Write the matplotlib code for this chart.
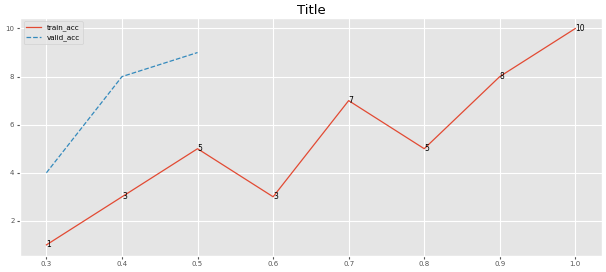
import matplotlib.pyplot as plt

plt.style.use('ggplot')

x_train = [0.3, 0.4, 0.5, 0.6, 0.7, 0.8, 0.9, 1.0]
train_acc = [1, 3, 5, 3, 7, 5, 8, 10]
x_valid = [0.3, 0.4, 0.5]
valid_acc = [4, 8, 9]

fig, ax = plt.subplots(figsize=(6.06, 2.72), dpi=100)
fig.subplots_adjust(left=0.033, right=0.993, top=0.935, bottom=0.06)

ax.plot(x_train, train_acc, linewidth=0.9, label='train_acc')
ax.plot(x_valid, valid_acc, '--', linewidth=0.9, label='valid_acc')

for x, y in zip(x_train, train_acc):
    ax.text(x, y, str(y), fontsize=5.5, va='center', ha='left')

ax.set_title('Title', fontsize=9.5, pad=3)
ax.tick_params(labelsize=5, length=2, pad=2)
ax.set_yticks([2, 4, 6, 8, 10])
ax.legend(loc='upper left', fontsize=5.2)

plt.savefig('out.png')
